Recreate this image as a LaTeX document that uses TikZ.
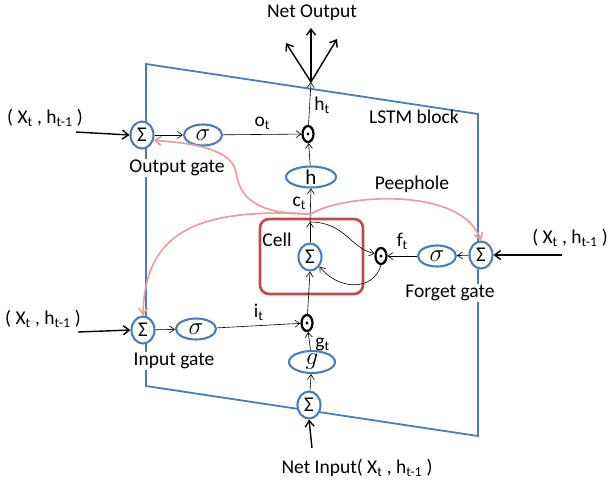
\documentclass[tikz,border=0pt]{standalone}
\usepackage{fontspec}
\setmainfont{Carlito}
\usetikzlibrary{arrows.meta, positioning, shapes.geometric}

\begin{document}
\begin{tikzpicture}[
    x=1pt, y=-1pt,
    every node/.style={font=\fontsize{19.5}{21}\selectfont},
]

\definecolor{blockblue}{HTML}{4A7EBB}   % the block and the units
\definecolor{cellred}{HTML}{BE4B48}     % cell box
\definecolor{peepred}{HTML}{E6A0A0}     % peephole links

\tikzset{
    unit/.style={ellipse, draw=blockblue, fill=white, line width=2.1pt,
        inner sep=0pt, minimum width=#1, minimum height=21pt,
        font=\fontsize{27}{28}\selectfont},
    sumnode/.style={ellipse, draw=blockblue, fill=white, line width=2.1pt,
        inner sep=0pt, minimum width=23pt, minimum height=27pt,
        font=\fontsize{21}{22}\selectfont},
    prodnode/.style={ellipse, draw=black, fill=white, line width=2.2pt,
        inner sep=0pt, minimum width=11pt, minimum height=16pt,
        path picture={\fill[black] (path picture bounding box.center) circle (1.6pt);}},
    gatelabel/.style={fill=white, inner sep=1pt},
    thin arrow/.style={-{Straight Barb[length=5pt, width=7pt]}, line width=0.6pt},
    thick arrow/.style={-{Straight Barb[length=6pt, width=9pt]}, line width=1.4pt},
    peep/.style={-{Straight Barb[length=6pt, width=9pt]}, draw=peepred, line width=1.7pt},
}

\def\xh{( X\textsubscript{t} , h\textsubscript{t-1} )}

\useasboundingbox (0,0) rectangle (612,483);

% ---------------------------------------------------------------- block
\draw[blockblue, line width=1.8pt] (146,64) -- (478,114) -- (478,436) -- (146,386) -- cycle;
\node (blocktxt) at (414,117) {LSTM block};

% ---------------------------------------------------------------- cell
\node[draw=cellred, line width=2.6pt, rounded corners=9pt,
      minimum width=103pt, minimum height=75pt] (cellbox) at (311.5,256.5) {};
\node (celltxt) at (277,240) {Cell};
\node[sumnode] (sumc) at (310,257) {Σ};
\coordinate (ctop) at (310,222);
\coordinate (peep) at (311,214);

% ---------------------------------------------------------------- output gate
\node[sumnode] (sumo) at (142,135) {Σ};
\node[unit=38pt] (sigo) at (203,135) {$\sigma$};
\node[prodnode] (prodo) at (308,134) {};
\node[unit=50pt, font=\fontsize{21}{22}\selectfont] (hnode) at (311,177) {h};
\node[gatelabel] (otxt) at (177,168) {Output gate};
\coordinate (ino) at (76,132);
\node (xho) at (45,118) {\xh};

\draw[thick arrow] (ino) -- (sumo.west);
\draw[thin arrow] (sumo) -- (sigo);
\draw[thin arrow] (sigo) -- (prodo) node[midway, above=1pt] {o\textsubscript{t}};
\draw[thin arrow] (sumc.north) -- (ctop);
\draw[thin arrow] (ctop) -- (hnode.south) node[pos=0.55, left=1pt] {c\textsubscript{t}};
\draw[thin arrow] (hnode) -- (prodo);

% ---------------------------------------------------------------- net output
\coordinate (fan) at (311,82);
\coordinate (no1) at (286,43);
\coordinate (no2) at (311,28);
\coordinate (no3) at (337,39);
\node (nettxt) at (312,13) {Net Output};
\draw[thin arrow] (prodo) -- (fan) node[pos=0.45, right=1pt] {h\textsubscript{t}};
\foreach \tip in {no1, no2, no3}
    \draw[thick arrow] (fan) -- (\tip);

% ---------------------------------------------------------------- forget gate
\node[prodnode] (prodf) at (381,256) {};
\node[unit=38pt] (sigf) at (437,256) {$\sigma$};
\node[sumnode] (sumf) at (481,255) {Σ};
\node[gatelabel] (ftxt) at (450,293) {Forget gate};
\coordinate (inf) at (562,255);
\node (xhf) at (570,238) {\xh};

\draw[thick arrow] (inf) -- (sumf.east);
\draw[thin arrow] (sumf) -- (sigf);
\draw[thin arrow] (sigf) -- (prodf) node[midway, above=3pt] {f\textsubscript{t}};
\draw[thin arrow] (ctop) .. controls (345,222) and (350,248) .. (prodf.160);
\draw[thin arrow] (prodf.south) .. controls (373,292) and (338,290) .. (sumc.-45);

% ---------------------------------------------------------------- input gate
\node[sumnode] (sumi) at (143,330) {Σ};
\node[unit=40pt] (sigi) at (196,329) {$\sigma$};
\node[prodnode] (prodi) at (307,323) {};
\node[unit=46pt] (gnode) at (312,362) {$g$};
\node[sumnode] (sumg) at (309,405) {Σ};
\node[gatelabel] (itxt) at (174,361) {Input gate};
\coordinate (ini) at (78,332);
\node (xhi) at (43,319) {\xh};
\coordinate (netin) at (312,448);
\node (intxt) at (357,468) {Net Input\xh};

\draw[thick arrow] (ini) -- (sumi.west);
\draw[thin arrow] (sumi) -- (sigi);
\draw[thin arrow] (sigi) -- (prodi) node[midway, above=1pt] {i\textsubscript{t}};
\draw[thin arrow] (gnode) -- (prodi) node[pos=0.3, right=2pt] {g\textsubscript{t}};
\draw[thin arrow] (prodi) -- (sumc.south);
\draw[thin arrow] (sumg) -- (gnode);
\draw[thick arrow] (netin) -- (sumg.south);

% ---------------------------------------------------------------- peepholes
\node (peeptxt) at (412,184) {Peephole};
\draw[peep] (peep) .. controls (268,214) and (240,205) .. (236,172)
                   .. controls (232,150) and (195,143) .. (sumo.-25);
\draw[peep] (peep) .. controls (200,208) and (145,230) .. (sumi.north);
\draw[peep] (peep) .. controls (340,195) and (460,185) .. (sumf.north);

\end{tikzpicture}
\end{document}
